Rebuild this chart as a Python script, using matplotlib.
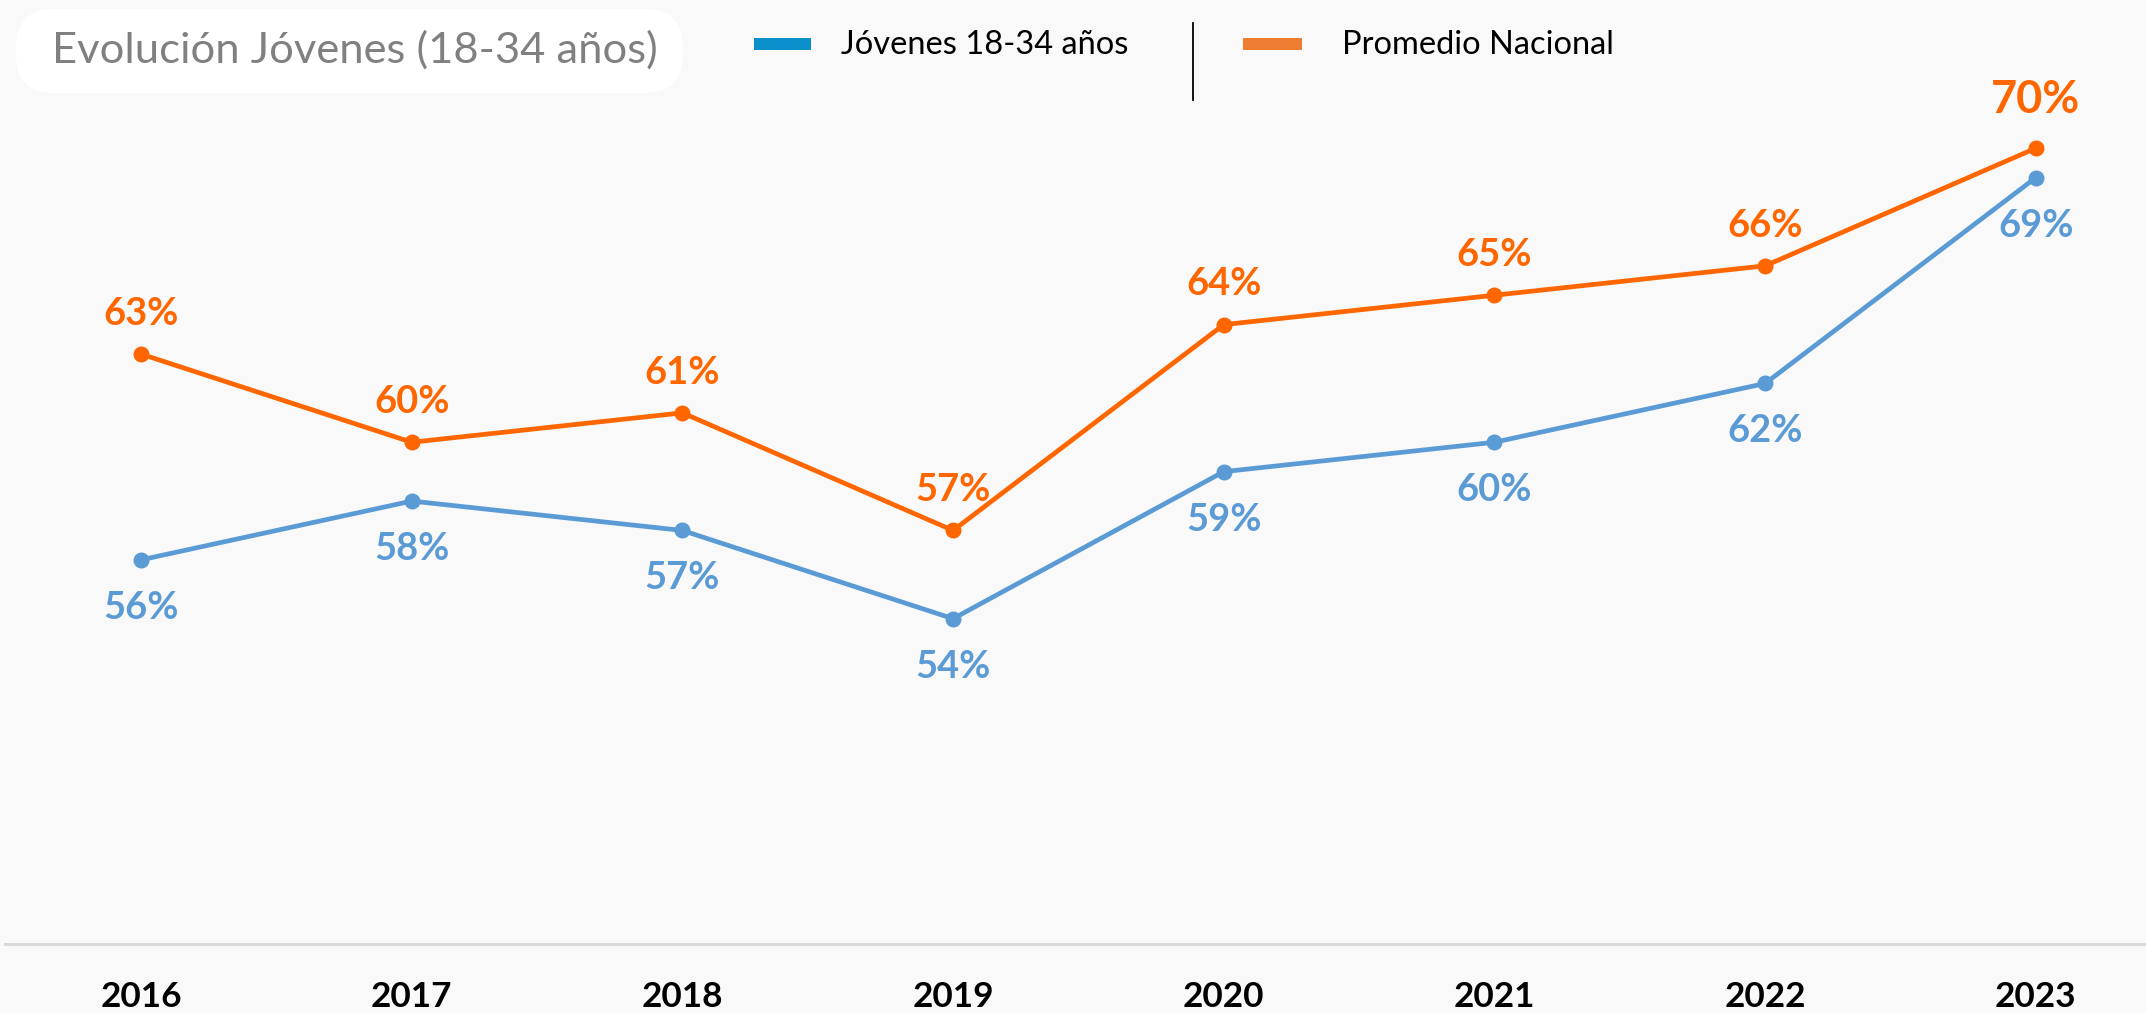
import matplotlib
matplotlib.use("Agg")
import matplotlib.pyplot as plt
import matplotlib.transforms as mtransforms
from matplotlib.patches import FancyBboxPatch, Rectangle
from matplotlib.lines import Line2D

years = ["2016", "2017", "2018", "2019", "2020", "2021", "2022", "2023"]
jovenes = [56, 58, 57, 54, 59, 60, 62, 69]
nacional = [63, 60, 61, 57, 64, 65, 66, 70]

title = "Evolución Jóvenes (18-34 años)"
legend_labels = ["Jóvenes 18-34 años", "Promedio Nacional"]

ORANGE = "#ff6600"
BLUE = "#5b9bd5"
BG = "#f9f9f9"

W, H = 2146, 1013
plt.rcParams["font.family"] = ["Lato", "DejaVu Sans"]

fig = plt.figure(figsize=(W / 100, H / 100), dpi=100, facecolor=BG)
ax = fig.add_axes([0, 0, 1, 1])
ax.set_facecolor(BG)
ax.set_axis_off()
ax.set_xlim(-0.521, 7.407)
ax.set_ylim(40.59, 75.04)

# pixel coordinates, origin top-left
px = mtransforms.Affine2D().scale(1 / W, -1 / H).translate(0, 1) + fig.transFigure

xs = list(range(len(years)))
ax.plot(xs, nacional, color=ORANGE, lw=3.4, marker="o", ms=10.5, zorder=3,
        solid_capstyle="round")
ax.plot(xs, jovenes, color=BLUE, lw=3.4, marker="o", ms=10.5, zorder=3,
        solid_capstyle="round")

# value labels: orange above, blue below; last orange one larger
for i, v in enumerate(nacional):
    big = i == len(nacional) - 1
    ax.annotate(f"{v}%", (i, v), xytext=(0, 35 if big else 29),
                textcoords="offset points", ha="center", va="center",
                fontsize=32.5 if big else 27.4, fontweight="bold", color=ORANGE)
for i, v in enumerate(jovenes):
    ax.annotate(f"{v}%", (i, v), xytext=(0, -34.5), textcoords="offset points",
                ha="center", va="center", fontsize=27.4, fontweight="bold",
                color=BLUE)

# baseline and year labels
fig.add_artist(Line2D([5, W], [944, 944], transform=px, color="#d9d9d9", lw=2.2))
trans = mtransforms.blended_transform_factory(ax.transData, fig.transFigure)
for i, yr in enumerate(years):
    ax.text(i, 1 - 997 / H, yr, transform=trans, ha="center", va="center",
            fontsize=25.3, fontweight="bold", color="black")

# title pill
fig.add_artist(FancyBboxPatch((16, 9), 667, 84,
                              boxstyle="round,pad=0,rounding_size=38",
                              transform=px, facecolor="white", edgecolor="none"))
fig.text(355, 50, title, transform=px, ha="center", va="center",
         fontsize=31.3, color="#808080")

# legend
fig.add_artist(Rectangle((754, 38), 57, 12, transform=px,
                         facecolor="#0a8fcb", edgecolor="none"))
fig.text(841, 45, legend_labels[0], transform=px, ha="left", va="center",
         fontsize=23.5, color="black")
fig.add_artist(Line2D([1193, 1193], [23, 100], transform=px, color="black",
                      lw=1.3))
fig.add_artist(Rectangle((1243, 38), 59, 12, transform=px,
                         facecolor="#ed7d31", edgecolor="none"))
fig.text(1342, 45, legend_labels[1], transform=px, ha="left", va="center",
         fontsize=23.5, color="black")

fig.savefig("out.png", dpi=100, facecolor=BG)
